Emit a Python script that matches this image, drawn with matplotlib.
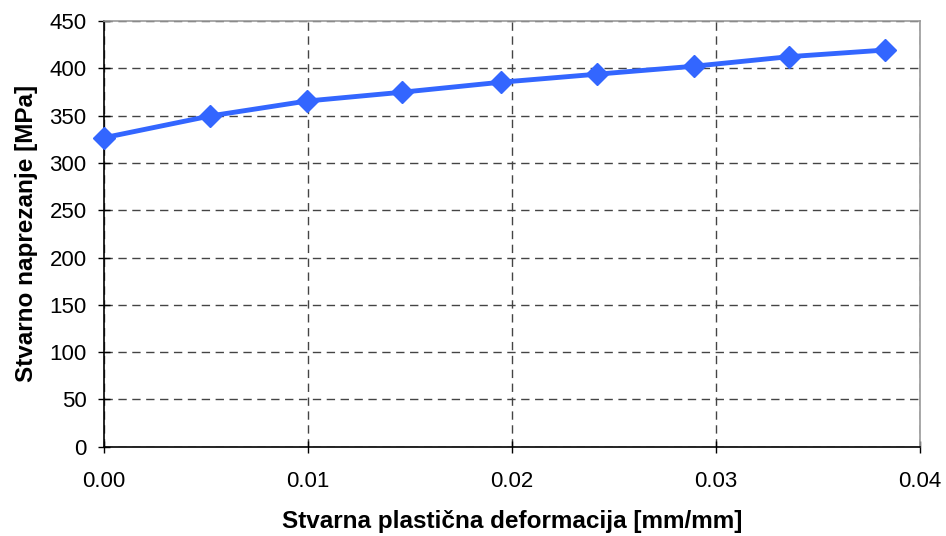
import matplotlib.pyplot as plt

strain = [0.0, 0.0052, 0.00995, 0.0146, 0.01946, 0.02417, 0.02892, 0.03358, 0.03828]
stress = [326.6, 349.6, 365.4, 374.7, 385.3, 393.8, 402.2, 412.3, 419.3]

plt.rcParams['font.family'] = ['Liberation Sans', 'DejaVu Sans']

fig = plt.figure(figsize=(9.46, 5.36), dpi=100)
ax = fig.add_axes([0.1099, 0.1666, 0.8626, 0.7942])

ax.plot(strain, stress, color='#3366FF', linewidth=3.5, marker='D', markersize=11,
        markeredgecolor='#3366FF', clip_on=False, zorder=3)

ax.set_xlim(0, 0.04)
ax.set_ylim(0, 450)
ax.set_xticks([0.0, 0.01, 0.02, 0.03, 0.04])
ax.set_xticklabels(['0.00', '0.01', '0.02', '0.03', '0.04'])
ax.set_yticks(range(0, 451, 50))
ax.tick_params(labelsize=16, direction='inout', length=9, width=1, color='black')
ax.tick_params(axis='y', pad=8)
ax.tick_params(axis='x', pad=13)

ax.grid(True, color='#444444', linestyle=(0, (6, 4)), linewidth=1)
ax.set_axisbelow(True)

ax.spines['left'].set_color('black')
ax.spines['bottom'].set_color('black')
ax.spines['top'].set_color('#999999')
ax.spines['right'].set_color('#999999')
for s in ax.spines.values():
    s.set_linewidth(1.2)

ax.set_xlabel('Stvarna plastična deformacija [mm/mm]', fontsize=17.5, fontweight='bold', labelpad=13)
ax.set_ylabel('Stvarno naprezanje [MPa]', fontsize=17.5, fontweight='bold', labelpad=8)

fig.savefig('out.png', dpi=100)
